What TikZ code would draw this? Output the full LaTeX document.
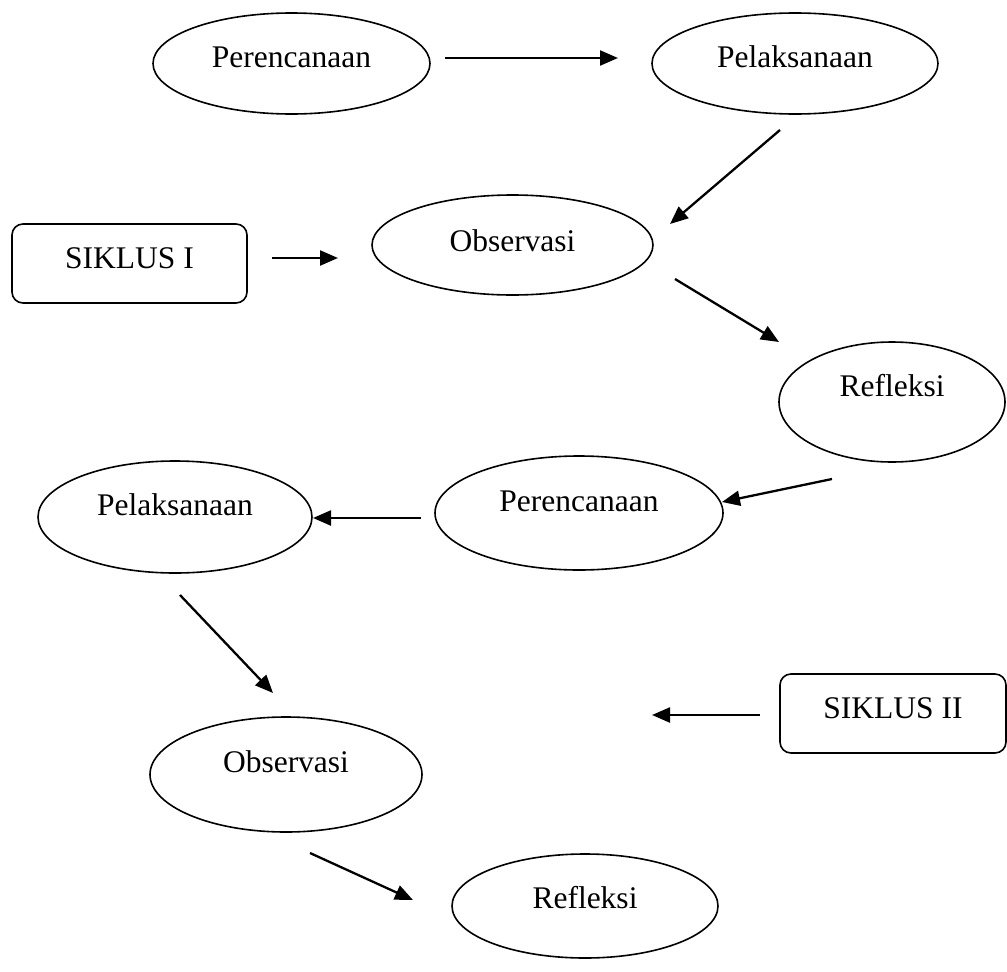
\documentclass[tikz,border=0pt]{standalone}
\usepackage{fontspec}
\setmainfont{Liberation Serif}
\usetikzlibrary{shapes.geometric,arrows.meta}
\begin{document}
\begin{tikzpicture}[x=1pt,y=-1pt,
  every node/.style={font=\fontsize{31.5}{36}\selectfont},
  oval/.style n args={3}{ellipse,draw,line width=1.6pt,minimum width=#1,minimum height=#2,inner sep=0pt,text height=22pt,text depth=#3},
  siklus/.style n args={2}{rectangle,draw,line width=1.6pt,rounded corners=11pt,minimum width=#1,minimum height=#2,inner sep=0pt,text height=22pt,text depth=13pt},
  arr/.style={line width=2.3pt,-{Triangle[length=18pt,width=15pt]}}
]
\useasboundingbox (0,0) rectangle (1007,972);

% nodes
\node[oval={277pt}{101pt}{15pt}] (P1) at (291.5,63.5) {Perencanaan};
\node[oval={286pt}{101pt}{15pt}] (L1) at (795,63.5) {Pelaksanaan};
\node[siklus={235pt}{79pt}] (S1) at (129.5,263.5) {SIKLUS I};
\node[oval={281pt}{100pt}{10pt}] (O1) at (512.5,245) {Observasi};
\node[oval={226pt}{120pt}{34pt}] (R1) at (892,402) {Refleksi};
\node[oval={288pt}{114pt}{26pt}] (P2) at (579,513) {Perencanaan};
\node[oval={274pt}{112pt}{26pt}] (L2) at (175,517) {Pelaksanaan};
\node[siklus={226pt}{79pt}] (S2) at (893,713.5) {SIKLUS II};
\node[oval={272pt}{115pt}{27pt}] (O2) at (286,774.5) {Observasi};
\node[oval={266pt}{104pt}{18pt}] (R2) at (585,906) {Refleksi};

% connector end points
\coordinate (a1s) at (445,58);  \coordinate (a1e) at (618,58);
\coordinate (a2s) at (780,130); \coordinate (a2e) at (670,224);
\coordinate (a3s) at (272,258); \coordinate (a3e) at (338,258);
\coordinate (a4s) at (675,279); \coordinate (a4e) at (779,342);
\coordinate (a5s) at (832,479); \coordinate (a5e) at (722,502);
\coordinate (a6s) at (421,518); \coordinate (a6e) at (313,518);
\coordinate (a7s) at (180,595); \coordinate (a7e) at (273,693);
\coordinate (a8s) at (760,715); \coordinate (a8e) at (652,715);
\coordinate (a9s) at (310,853); \coordinate (a9e) at (413,900);

\draw[arr] (a1s) -- (a1e);
\draw[arr] (a2s) -- (a2e);
\draw[arr] (a3s) -- (a3e);
\draw[arr] (a4s) -- (a4e);
\draw[arr] (a5s) -- (a5e);
\draw[arr] (a6s) -- (a6e);
\draw[arr] (a7s) -- (a7e);
\draw[arr] (a8s) -- (a8e);
\draw[arr] (a9s) -- (a9e);
\end{tikzpicture}
\end{document}
